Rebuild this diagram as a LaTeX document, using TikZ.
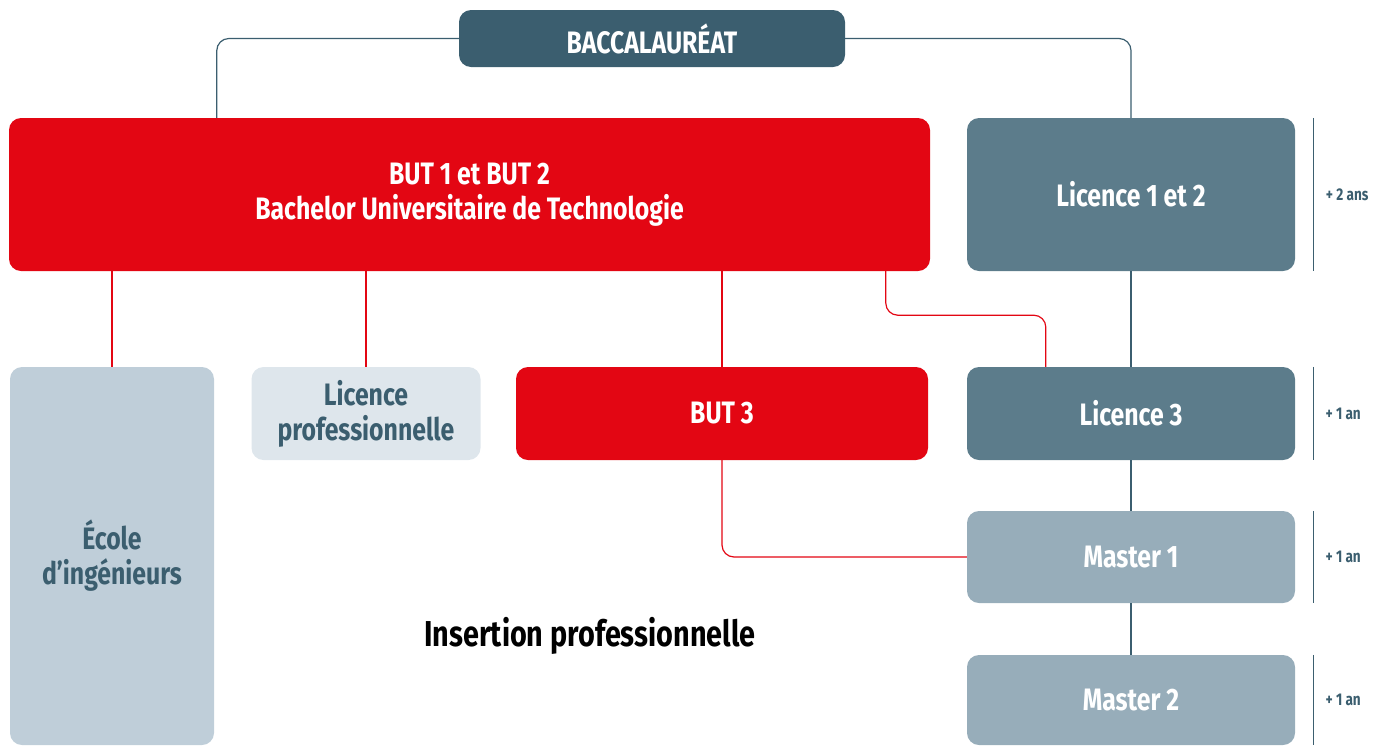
\documentclass[tikz,border=0pt]{standalone}
\usepackage{fontspec}
\setmainfont{Fira Sans}[FakeStretch=0.8]
\usetikzlibrary{calc}
\definecolor{slate}{HTML}{3B5E6F}
\definecolor{lic}{HTML}{5C7C8B}
\definecolor{mas}{HTML}{97ADBA}
\definecolor{eco}{HTML}{BFCED9}
\definecolor{pro}{HTML}{DEE6EC}
\definecolor{rouge}{HTML}{E30613}
\tikzset{
  box/.style={rounded corners=12pt, inner sep=0pt, align=center, font=\fontsize{31}{35}\selectfont\bfseries},
  bacbox/.style={box, fill=slate, text=white, minimum width=386pt, minimum height=57pt},
  redbox/.style={box, fill=rouge, text=white},
  licbox/.style={box, fill=lic, text=white, minimum width=328pt},
  masbox/.style={box, fill=mas, text=white, minimum width=328pt},
  ecobox/.style={box, fill=eco, text=slate},
  probox/.style={box, fill=pro, text=slate},
  gline/.style={draw=slate, line width=1.2pt},
  rline/.style={draw=rouge, line width=1.2pt},
  dur/.style={text=slate, font=\fontsize{17}{20}\selectfont\bfseries, inner sep=0pt},
}
\begin{document}
\begin{tikzpicture}[x=1pt, y=-1pt]
\useasboundingbox (0,0) rectangle (1386,745);
% nodes
\node[bacbox] (bac) at (652,38.5) {BACCALAURÉAT};
\node[redbox, minimum width=921pt, minimum height=153pt] (but12) at (469.5,194.5) {BUT 1 et BUT 2\\Bachelor Universitaire de Technologie};
\node[licbox, minimum height=153pt] (l12) at (1131,194.5) {Licence 1 et 2};
\node[licbox, minimum height=93pt] (l3) at (1131,413.5) {Licence 3};
\node[masbox, minimum height=92pt] (m1) at (1131,557) {Master 1};
\node[masbox, minimum height=90pt] (m2) at (1131,700) {Master 2};
\node[redbox, minimum width=412pt, minimum height=93pt] (but3) at (722,413.5) {BUT 3};
\node[probox, minimum width=229pt, minimum height=93pt] (lpro) at (366,413.5) {Licence\\professionnelle};
\node[ecobox, minimum width=204pt, minimum height=378pt] (ecole) at (112,556) {École\\d’ingénieurs};
\node[font=\fontsize{36}{44}\selectfont\bfseries, text=black, inner sep=0pt] (ins) at (590,636) {Insertion professionnelle};
% grey connectors
\draw[gline, rounded corners=12pt] (bac.west) -| ([xshift=208pt]but12.north west);
\draw[gline, rounded corners=12pt] (bac.east) -| (l12.north);
\draw[gline] (l12.south) -- (l3.north);
\draw[gline] (l3.south) -- (m1.north);
\draw[gline] (m1.south) -- (m2.north);
% red connectors
\draw[rline] (but12.south -| ecole.north) -- (ecole.north);
\draw[rline] (but12.south -| lpro.north) -- (lpro.north);
\draw[rline] (but12.south -| but3.north) -- (but3.north);
\draw[rline, rounded corners=12pt] ([xshift=877pt]but12.south west) -- ++(0,44) -| ([xshift=79pt]l3.north west);
\draw[rline, rounded corners=12pt] (but3.south) |- (m1.west);
% duration bars
\draw[gline] ([xshift=18pt]l12.north east) -- ([xshift=18pt]l12.south east);
\draw[gline] ([xshift=18pt]l3.north east) -- ([xshift=18pt]l3.south east);
\draw[gline] ([xshift=18pt]m1.north east) -- ([xshift=18pt]m1.south east);
\draw[gline] ([xshift=18pt]m2.north east) -- ([xshift=18pt]m2.south east);
\node[dur] (d1) at ([xshift=52pt]l12.east) {+ 2 ans};
\node[dur] (d2) at ([xshift=48pt]l3.east) {+ 1 an};
\node[dur] (d3) at ([xshift=48pt]m1.east) {+ 1 an};
\node[dur] (d4) at ([xshift=48pt]m2.east) {+ 1 an};
\end{tikzpicture}
\end{document}
